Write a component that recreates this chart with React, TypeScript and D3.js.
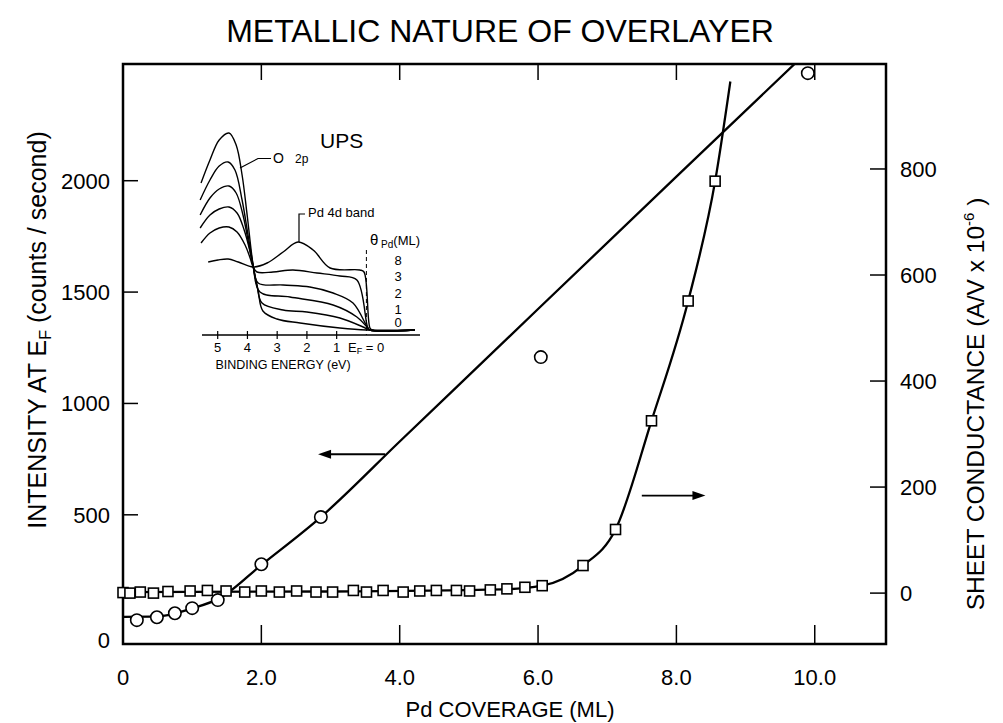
import * as d3 from "d3";

const FONT = "'Liberation Sans', Arial, Helvetica, sans-serif";

const title = "METALLIC NATURE OF OVERLAYER";
const xTicks = [0, 2, 4, 6, 8, 10];
const xTickLabels = ["0", "2.0", "4.0", "6.0", "8.0", "10.0"];
const leftTicks = [0, 500, 1000, 1500, 2000];
const rightTicks = [0, 200, 400, 600, 800];

// UPS intensity at E_F (circles, left axis)
const upsX = [0.2, 0.49, 0.75, 1.0, 1.37, 2.0, 2.86, 6.04, 9.9];
const upsY = [27, 40, 58, 81, 117, 278, 490, 1208, 2483];
const upsFitX = [0, 0.5, 1.0, 1.4, 2.0, 2.86, 4, 6, 8, 9.9];
const upsFitY = [42, 44, 80, 126, 275, 490, 829, 1424, 2018, 2581];

// sheet conductance (squares, right axis)
const sheetX = [0, 0.1, 0.25, 0.44, 0.65, 0.97, 1.22, 1.49, 1.76, 2.0, 2.26, 2.51, 2.79, 3.03, 3.33, 3.52, 3.76, 4.05, 4.29, 4.53, 4.82, 5.01, 5.31, 5.55, 5.81, 6.06, 6.65, 7.12, 7.64, 8.17, 8.56];
const sheetY = [1, 0, 2, 0, 3, 4, 5, 4, 2, 4, 2, 4, 2, 2, 5, 2, 5, 2, 4, 5, 5, 4, 6, 8, 11, 14, 52, 120, 325, 551, 777];
const sheetFitX = [0, 3, 5.5, 6.06, 6.65, 7.12, 7.64, 8.17, 8.56, 8.78];
const sheetFitY = [2, 3, 7, 14, 52, 120, 325, 551, 777, 965];

// arrows: [x0, x1, value]
const leftArrow = [3.79, 2.82, 772];
const rightArrow = [7.5, 8.42, 184];

// inset UPS spectra: [binding energy (eV), intensity (arb.)]
const spec0 = [[5.56, 76], [5.26, 87.5], [4.95, 97.5], [4.62, 101], [4.38, 95], [4.18, 80], [4.01, 60], [3.81, 35], [3.64, 22], [3.48, 12], [3.01, 8], [2.23, 6], [0.89, 3.5], [0, 2.5], [-1.63, 2.5]];
const spec1 = [[5.59, 67.5], [5.26, 77.5], [4.95, 84.5], [4.65, 86.5], [4.42, 82.5], [4.18, 67.5], [3.98, 50], [3.81, 35], [3.68, 25], [3.51, 16], [2.8, 12.5], [2.0, 11.5], [0.89, 8.5], [0.11, 4], [-0.12, 2.5], [-1.63, 2.5]];
const spec2 = [[5.59, 60], [5.26, 68.5], [4.95, 73], [4.62, 74.5], [4.38, 71], [4.15, 60], [3.95, 45], [3.81, 34.5], [3.58, 21.5], [2.57, 19], [1.12, 15], [0.32, 9], [-0.05, 3.5], [-0.12, 2.5], [-1.63, 2.5]];
const spec3 = [[5.59, 53.5], [5.26, 60], [4.95, 63], [4.62, 64], [4.35, 61], [4.11, 52.5], [3.91, 41.5], [3.81, 34.5], [3.64, 26], [2.8, 25], [1.9, 24], [1.12, 21], [0.45, 16], [-0.05, 3.5], [-0.12, 2.5], [-1.63, 2.5]];
const spec4 = [[5.56, 46], [5.26, 51], [4.95, 53.5], [4.62, 54], [4.35, 51.5], [4.08, 45], [3.91, 38.5], [3.81, 34], [3.68, 31.5], [3.14, 31.5], [2.47, 32.5], [1.66, 31], [0.89, 29.5], [0.32, 27.5], [-0.05, 3.5], [-0.12, 2.5], [-1.63, 2.5]];
const spec8 = [[5.32, 36.5], [4.99, 37.5], [4.65, 38], [4.31, 36.5], [3.81, 34], [3.34, 36], [2.8, 41.5], [2.3, 46.5], [1.79, 42.5], [1.22, 33.5], [0.22, 32.5], [0.08, 31.5], [-0.12, 3.5], [-0.2, 2.5], [-1.63, 2.5]];
const spectra = [spec0, spec1, spec2, spec3, spec4, spec8];
const coverageLabels = ["8", "3", "2", "1", "0"];
const insetTicks = [5, 4, 3, 2, 1];

export default function App() {
  const W = 1003, H = 723;
  const m = { left: 123, right: 886, top: 64, bottom: 644 };

  const x = d3.scaleLinear().domain([0, 11.03]).range([m.left, m.right]);
  const yL = d3.scaleLinear().domain([-80, 2524]).range([m.bottom, m.top]);
  const yR = d3.scaleLinear().domain([-96, 998]).range([m.bottom, m.top]);

  // inset scales
  const ix = d3.scaleLinear().domain([5, 0]).range([217.7, 366.4]);
  const iy = d3.scaleLinear().domain([0, 110]).range([335, 115]);

  const upsLine = d3.line<number>()
    .x((_, i) => x(upsFitX[i]))
    .y(d => yL(d))
    .curve(d3.curveMonotoneX);

  const sheetLine = d3.line<number>()
    .x((_, i) => x(sheetFitX[i]))
    .y(d => yR(d))
    .curve(d3.curveMonotoneX);

  const specLine = d3.line<number[]>()
    .x(d => ix(d[0]))
    .y(d => iy(d[1]))
    .curve(d3.curveCatmullRom.alpha(0.5));

  const arrowHead = (tx: number, ty: number, dir: number) =>
    `M${tx},${ty} L${tx - dir * 13},${ty - 4.5} L${tx - dir * 13},${ty + 4.5} Z`;

  const la = { x0: x(leftArrow[0]), x1: x(leftArrow[1]), y: yL(leftArrow[2]) };
  const ra = { x0: x(rightArrow[0]), x1: x(rightArrow[1]), y: yR(rightArrow[2]) };

  return (
    <svg width={W} height={H} style={{ position: "absolute", left: 0, top: 0, background: "#fff" }}
      fontFamily={FONT}>
      <defs>
        <clipPath id="plot-clip">
          <rect x={m.left} y={m.top} width={m.right - m.left} height={m.bottom - m.top} />
        </clipPath>
      </defs>
      <rect width={W} height={H} fill="#fff" />

      <text x={500} y={42} textAnchor="middle" fontSize={32}>{title}</text>

      {/* frame */}
      <rect x={m.left} y={m.top} width={m.right - m.left} height={m.bottom - m.top}
        fill="none" stroke="#000" strokeWidth={2.5} />

      {/* x ticks, bottom and top */}
      {xTicks.slice(1).map(t => (
        <g key={"xt" + t}>
          <line x1={x(t)} x2={x(t)} y1={m.bottom} y2={m.bottom - 19} stroke="#000" strokeWidth={1.5} />
          <line x1={x(t)} x2={x(t)} y1={m.top} y2={m.top + 16} stroke="#000" strokeWidth={1.5} />
        </g>
      ))}
      {xTicks.map((t, i) => (
        <text key={"xl" + t} x={x(t)} y={685} textAnchor="middle" fontSize={22}>{xTickLabels[i]}</text>
      ))}
      <text x={510} y={717} textAnchor="middle" fontSize={22}>Pd COVERAGE (ML)</text>

      {/* left axis */}
      {leftTicks.map(t => (
        <g key={"lt" + t}>
          {t > 0 && <line x1={m.left} x2={m.left + 15} y1={yL(t)} y2={yL(t)} stroke="#000" strokeWidth={1.5} />}
          <text x={110} y={yL(t) + (t === 0 ? 14 : 0)} dy="0.36em" textAnchor="end" fontSize={22}>{t}</text>
        </g>
      ))}
      <text transform="translate(46,330) rotate(-90)" textAnchor="middle" fontSize={25}>
        INTENSITY AT E<tspan fontSize={16} dy={5}>F</tspan><tspan dy={-5}>  (counts / second)</tspan>
      </text>

      {/* right axis */}
      {rightTicks.map(t => (
        <g key={"rt" + t}>
          <line x1={m.right - 16} x2={m.right} y1={yR(t)} y2={yR(t)} stroke="#000" strokeWidth={1.5} />
          <text x={900} y={yR(t)} dy="0.36em" textAnchor="start" fontSize={22}>{t}</text>
        </g>
      ))}
      <text transform="translate(984,404) rotate(-90)" textAnchor="middle" fontSize={24.5}>
        SHEET CONDUCTANCE (A/V x 10<tspan fontSize={15} dy={-10}>-6</tspan><tspan dy={10}> )</tspan>
      </text>

      {/* data lines */}
      <g clipPath="url(#plot-clip)">
        <path d={upsLine(upsFitY) || ""} fill="none" stroke="#000" strokeWidth={2.3} />
        <path d={sheetLine(sheetFitY) || ""} fill="none" stroke="#000" strokeWidth={2.3} />
      </g>

      {/* squares */}
      {sheetX.map((v, i) => (
        <rect key={"sq" + i} x={x(v) - 5} y={yR(sheetY[i]) - 5} width={10} height={10}
          fill="#fff" stroke="#000" strokeWidth={1.6} />
      ))}
      {/* circles */}
      {upsX.map((v, i) => (
        <circle key={"c" + i} cx={x(v)} cy={yL(upsY[i])} r={6.2} fill="#fff" stroke="#000" strokeWidth={1.6} />
      ))}

      {/* arrows */}
      <line x1={la.x0} x2={la.x1 + 10} y1={la.y} y2={la.y} stroke="#000" strokeWidth={1.8} />
      <path d={arrowHead(la.x1, la.y, -1)} fill="#000" />
      <line x1={ra.x0} x2={ra.x1 - 10} y1={ra.y} y2={ra.y} stroke="#000" strokeWidth={1.8} />
      <path d={arrowHead(ra.x1, ra.y, 1)} fill="#000" />

      {/* inset */}
      <g>
        {spectra.map((s, i) => (
          <path key={"sp" + i} d={specLine(s) || ""} fill="none" stroke="#000" strokeWidth={1.4} />
        ))}
        <line x1={202} x2={420} y1={iy(0)} y2={iy(0)} stroke="#000" strokeWidth={1.6} />
        {insetTicks.map(t => (
          <g key={"it" + t}>
            <line x1={ix(t)} x2={ix(t)} y1={iy(0) - 4} y2={iy(0) + 4} stroke="#000" strokeWidth={1.2} />
            <text x={ix(t)} y={352} textAnchor="middle" fontSize={13}>{t}</text>
          </g>
        ))}
        <text x={348} y={352} fontSize={13}>
          E<tspan fontSize={9} dy={2}>F</tspan><tspan dy={-2}> = 0</tspan>
        </text>
        <text x={283} y={369} textAnchor="middle" fontSize={12.5}>BINDING ENERGY (eV)</text>
        <line x1={ix(0)} x2={ix(0)} y1={250} y2={iy(0)} stroke="#000" strokeWidth={1} strokeDasharray="4,3" />

        <text x={320} y={148} fontSize={21}>UPS</text>
        <polyline points="271,158.5 258,158.5 240,168" fill="none" stroke="#000" strokeWidth={1.2} />
        <text x={273} y={163} fontSize={14}>O</text>
        <text x={295} y={163} fontSize={12}>2p</text>

        <polyline points="305,214 299,214 299,242" fill="none" stroke="#000" strokeWidth={1.2} />
        <text x={308} y={217} fontSize={13}>Pd 4d band</text>

        <text x={370} y={245} fontSize={15}>
          θ<tspan fontSize={10} dy={3}> Pd</tspan><tspan fontSize={13} dy={-3}>(ML)</tspan>
        </text>
        {coverageLabels.map((c, i) => (
          <text key={"cv" + c} x={398} y={[265, 281, 298, 314, 327][i]} textAnchor="middle" fontSize={13}>{c}</text>
        ))}
      </g>
    </svg>
  );
}
